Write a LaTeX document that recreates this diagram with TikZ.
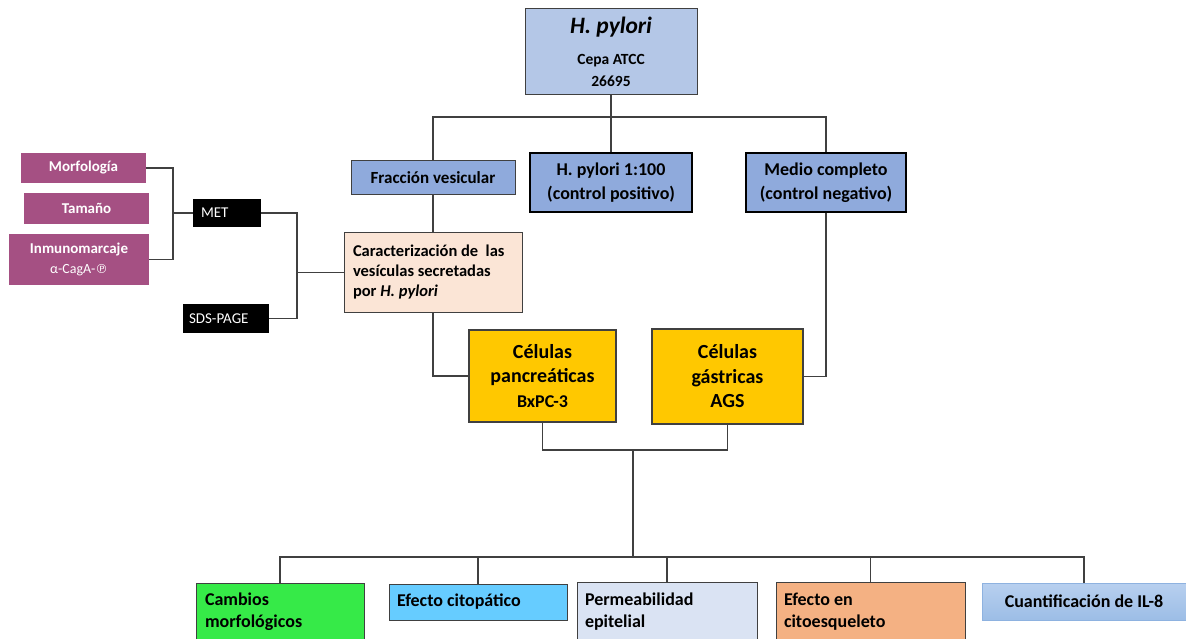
\documentclass[tikz,border=0pt]{standalone}
\usepackage{fontspec}
\setmainfont{Carlito}
\newfontfamily\dejavu{DejaVu Sans}
\definecolor{hpC}{HTML}{B4C7E7}
\definecolor{midC}{HTML}{8FAADC}
\definecolor{carC}{HTML}{FBE5D6}
\definecolor{yelC}{HTML}{FFC800}
\definecolor{purC}{HTML}{A55083}
\definecolor{greenC}{HTML}{36EA48}
\definecolor{citC}{HTML}{66CCFF}
\definecolor{perC}{HTML}{DAE3F3}
\definecolor{effC}{HTML}{F4B183}
\definecolor{ilTop}{HTML}{B8D0EF}
\definecolor{ilBot}{HTML}{9CBDE6}
\definecolor{ilBorder}{HTML}{8EB2E0}
\definecolor{lineC}{HTML}{404040}
\newcommand{\leftblock}[2]{\parbox{#1}{\raggedright #2}}
\begin{document}
\begin{tikzpicture}[x=1pt,y=-1pt,
  conn/.style={draw=lineC, line width=1.4pt},
  bx/.style={draw=lineC, line width=1pt, inner sep=0pt, align=center, font=\bfseries},
  heavybox/.style={bx, draw=black, line width=2.6pt, fill=midC, minimum height=59pt, font=\bfseries\fontsize{18}{24}\selectfont},
  cellbox/.style={bx, fill=yelC, line width=1.2pt, font=\bfseries\fontsize{20}{24.5}\selectfont},
  pur/.style={fill=purC, draw=none, text=white, inner sep=0pt, align=center, font=\bfseries\fontsize{15}{20}\selectfont},
  blk/.style={fill=black, draw=none, text=white, inner sep=0pt, font=\fontsize{15}{18}\selectfont},
  bot/.style={draw=lineC, line width=1pt, inner sep=0pt, font=\bfseries\fontsize{18}{22}\selectfont},
]
\useasboundingbox (0,0) rectangle (1186,639);
\clip (0,0) rectangle (1186,639);

% top
\node[bx, fill=hpC, minimum width=172pt, minimum height=86pt, font=\bfseries\fontsize{15.5}{22}\selectfont] (hp) at (611,52)
  {{\fontsize{23.5}{26}\selectfont\itshape H. pylori}\\[9pt]Cepa ATCC\\26695};

\node[bx, fill=midC, minimum width=164pt, minimum height=34pt, font=\bfseries\fontsize{17}{20}\selectfont] (fv) at (433,178) {Fracción vesicular};
\node[heavybox, minimum width=162pt] (pos) at (611,182.5) {H. pylori 1:100\\(control positivo)};
\node[heavybox, minimum width=160pt] (neg) at (826,182.5) {Medio completo\\(control negativo)};

\node[bot, fill=carC, minimum width=178pt, minimum height=79pt, font=\bfseries\fontsize{16.5}{20}\selectfont] (car) at (433,272.5)
  {\leftblock{160pt}{Caracterización de\ \ las\\vesículas secretadas\\por \textit{H. pylori}}};

\node[cellbox, minimum width=147pt, minimum height=92pt] (pan) at (542.5,376) {Células\\pancreáticas\\{\fontsize{18}{24.5}\selectfont BxPC-3}};
\node[cellbox, minimum width=151pt, minimum height=95pt] (gas) at (727.5,376.5) {Células\\gástricas\\AGS};

% left
\node[pur, minimum width=125pt, minimum height=30pt] (mor) at (83.5,168) {Morfología};
\node[pur, minimum width=125pt, minimum height=31pt] (tam) at (86.5,208.5) {Tamaño};
\node[pur, minimum width=140pt, minimum height=51pt] (inm) at (79,259.5)
  {Inmunomarcaje\\{\mdseries\fontsize{14}{20}\selectfont α-CagA-{\dejavu\fontsize{12.5}{20}\selectfont ℗}}};
\node[blk, minimum width=68pt, minimum height=28pt] (met) at (227,213) {\leftblock{52pt}{MET}};
\node[blk, minimum width=86pt, minimum height=29pt] (sds) at (226,318.5) {\leftblock{74pt}{SDS-PAGE}};

% bottom
\node[bot, fill=greenC, minimum width=168pt, minimum height=58pt] (cam) at (280,612) {\leftblock{150pt}{Cambios\\morfológicos}};
\node[bot, fill=citC, minimum width=178pt, minimum height=36pt] (cit) at (478,602) {\leftblock{162pt}{Efecto citopático}};
\node[bot, fill=perC, minimum width=180pt, minimum height=59pt] (per) at (667,611.5) {\leftblock{164pt}{Permeabilidad\\epitelial}};
\node[bot, fill=effC, minimum width=189pt, minimum height=59pt] (eff) at (870.5,611.5) {\leftblock{173pt}{Efecto en\\citoesqueleto}};
\node[bx, draw=ilBorder, top color=ilTop, bottom color=ilBot, minimum width=204pt, minimum height=37pt, font=\bfseries\fontsize{18}{22}\selectfont] (il) at (1084,601.5) {Cuantificación de IL-8};

% junctions
\coordinate (j1) at (173,213);
\coordinate (j2) at (297,272.5);
\coordinate (j3) at (611,117);
\coordinate (j4) at (633,450);
\coordinate (j5) at (633,557);

% connectors
\draw[conn] (hp.south) -- (pos.north);
\draw[conn] (fv.north) |- (j3) -| (neg.north);
\draw[conn] (fv.south) -- (car.north);
\draw[conn] (car.south) |- (pan.west);
\draw[conn] (neg.south) |- (gas.east);
\draw[conn] (mor.east) -| (j1) |- (inm.east);
\draw[conn] (j1) -- (met.west);
\draw[conn] (met.east) -| (j2) |- (sds.east);
\draw[conn] (j2) -- (car.west);
\draw[conn] (pan.south) |- (j4) -| (gas.south);
\draw[conn] (j4) -- (j5);
\draw[conn] (j5) -| (cam.north);
\draw[conn] (j5) -| (cit.north);
\draw[conn] (j5) -| (per.north);
\draw[conn] (j5) -| (eff.north);
\draw[conn] (j5) -| (il.north);
\end{tikzpicture}
\end{document}
